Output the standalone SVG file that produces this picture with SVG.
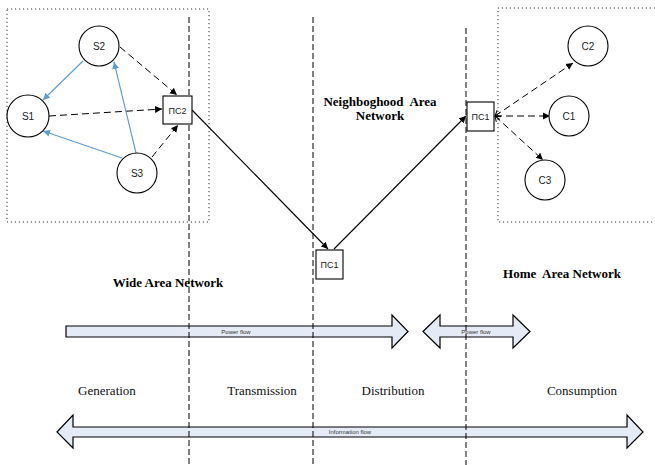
<svg xmlns="http://www.w3.org/2000/svg" width="655" height="465" viewBox="0 0 655 465">
<style>
.node{fill:#fff;stroke:#000;stroke-width:1.1}
.lbl{font-family:"Liberation Sans",Arial,sans-serif;font-size:10px;fill:#222;text-anchor:middle}
.dot{fill:none;stroke:#333;stroke-width:1;stroke-dasharray:1.2 2.8}
.vline{stroke:#000;stroke-width:1;stroke-dasharray:6 3}
.dash{stroke:#000;stroke-width:1;stroke-dasharray:7 4;fill:none}
.blue{stroke:#5B9BD5;stroke-width:1.1;fill:none}
.solid{stroke:#000;stroke-width:1.1;fill:none}
.flow{fill:#E4EBF6;stroke:#000;stroke-width:1.2}
.ftxt{font-family:"Liberation Sans",Arial,sans-serif;font-size:6px;fill:#333;text-anchor:middle}
.title{font-family:"Liberation Serif","Times New Roman",serif;font-size:13px;font-weight:bold;fill:#000}
.stage{font-family:"Liberation Serif","Times New Roman",serif;font-size:13px;fill:#111;text-anchor:middle}
</style>
<defs>
<marker id="ab" markerWidth="8" markerHeight="8" refX="7" refY="4" orient="auto" markerUnits="userSpaceOnUse"><path d="M0,0.5 L7,4 L0,7.5 Z" fill="#000"/></marker>
<marker id="abb" markerWidth="8" markerHeight="8" refX="7" refY="4" orient="auto" markerUnits="userSpaceOnUse"><path d="M0,0.5 L7,4 L0,7.5 Z" fill="#5B9BD5"/></marker>
<marker id="ao" markerWidth="8" markerHeight="8" refX="1" refY="4" orient="auto" markerUnits="userSpaceOnUse"><path d="M6,0.5 L1,4 L6,7.5" fill="none" stroke="#000" stroke-width="1"/></marker>
</defs>
<rect width="655" height="465" fill="#fff"/>
<!-- region boxes -->
<rect class="dot" x="7" y="9" width="202" height="213"/>
<path class="dot" d="M655,8 H498 V222 H655"/>
<!-- flows -->
<g id="power-flow-1">
<path class="flow" d="M66,326 H392 V315 L408,331.5 L392,348 V337 H66 Z"/>
<text class="ftxt" x="236" y="333.5">Power flow</text>
</g>
<g id="power-flow-2">
<path class="flow" d="M423,331.5 L440,315 V326 H513 V315 L530,331.5 L513,348 V337 H440 V348 Z"/>
<text class="ftxt" x="476" y="333.5">Power flow</text>
</g>
<g id="information-flow">
<path class="flow" d="M57,432 L73,415 V427 H627 V415 L643,432 L627,448 V437 H73 V448 Z"/>
<text class="ftxt" x="350" y="434">Information flow</text>
</g>
<!-- vertical dashed separators -->
<g id="separators">
<line class="vline" x1="189" y1="17" x2="189" y2="465"/>
<line class="vline" x1="313" y1="17" x2="313" y2="465"/>
<line class="vline" x1="466" y1="28" x2="466" y2="465"/>
</g>
<!-- connectors -->
<g id="connectors">
<line class="dash" x1="120" y1="47" x2="177" y2="95" marker-end="url(#ab)"/>
<line class="dash" x1="49" y1="116" x2="162" y2="109" marker-end="url(#ab)"/>
<line class="dash" x1="152" y1="157" x2="178" y2="125" marker-end="url(#ab)"/>
<line class="blue" x1="83" y1="61" x2="43" y2="100" marker-end="url(#abb)"/>
<line class="blue" x1="122" y1="158" x2="43" y2="131" marker-end="url(#abb)"/>
<line class="blue" x1="136" y1="153" x2="114" y2="62" marker-end="url(#abb)"/>
<line class="solid" x1="192" y1="110" x2="328" y2="249" marker-end="url(#ab)"/>
<line class="solid" x1="334" y1="249" x2="466" y2="116" marker-end="url(#ab)"/>
<line class="dash" x1="495" y1="116" x2="573" y2="63" marker-start="url(#ao)" marker-end="url(#ab)"/>
<line class="dash" x1="495" y1="116" x2="550" y2="116" marker-start="url(#ao)" marker-end="url(#ab)"/>
<line class="dash" x1="495" y1="116" x2="543" y2="160" marker-start="url(#ao)" marker-end="url(#ab)"/>
</g>
<!-- nodes -->
<g id="S2"><circle class="node" cx="99" cy="46" r="20"/><text class="lbl" x="99" y="49.5">S2</text></g>
<g id="S1"><circle class="node" cx="28" cy="116" r="21"/><text class="lbl" x="28" y="119.5">S1</text></g>
<g id="S3"><circle class="node" cx="137" cy="173" r="20"/><text class="lbl" x="137" y="176.5">S3</text></g>
<g id="PS2"><rect class="node" x="163" y="96" width="29" height="28"/><text class="lbl" x="177.5" y="113.5" style="font-size:9px">ПС2</text></g>
<g id="PS1-dist"><rect class="node" x="316" y="250" width="27" height="29"/><text class="lbl" x="329.5" y="268" style="font-size:9px">ПС1</text></g>
<g id="PS1-home"><rect class="node" x="467" y="102" width="27" height="29"/><text class="lbl" x="480.5" y="120" style="font-size:9px">ПС1</text></g>
<g id="C2"><circle class="node" cx="588" cy="46" r="20"/><text class="lbl" x="588" y="49.5">C2</text></g>
<g id="C1"><circle class="node" cx="569" cy="116" r="20"/><text class="lbl" x="569" y="119.5">C1</text></g>
<g id="C3"><circle class="node" cx="545" cy="180" r="20"/><text class="lbl" x="545" y="183.5">C3</text></g>
<!-- titles -->
<text class="title" x="380" y="106" text-anchor="middle" xml:space="preserve">Neighboghood  Area</text>
<text class="title" x="380" y="120" text-anchor="middle">Network</text>
<text class="title" x="168" y="287" text-anchor="middle">Wide Area Network</text>
<text class="title" x="562" y="278" text-anchor="middle" xml:space="preserve">Home  Area Network</text>
<!-- stages -->
<text class="stage" x="107" y="395">Generation</text>
<text class="stage" x="262" y="395">Transmission</text>
<text class="stage" x="393" y="395">Distribution</text>
<text class="stage" x="582" y="395">Consumption</text>
</svg>
